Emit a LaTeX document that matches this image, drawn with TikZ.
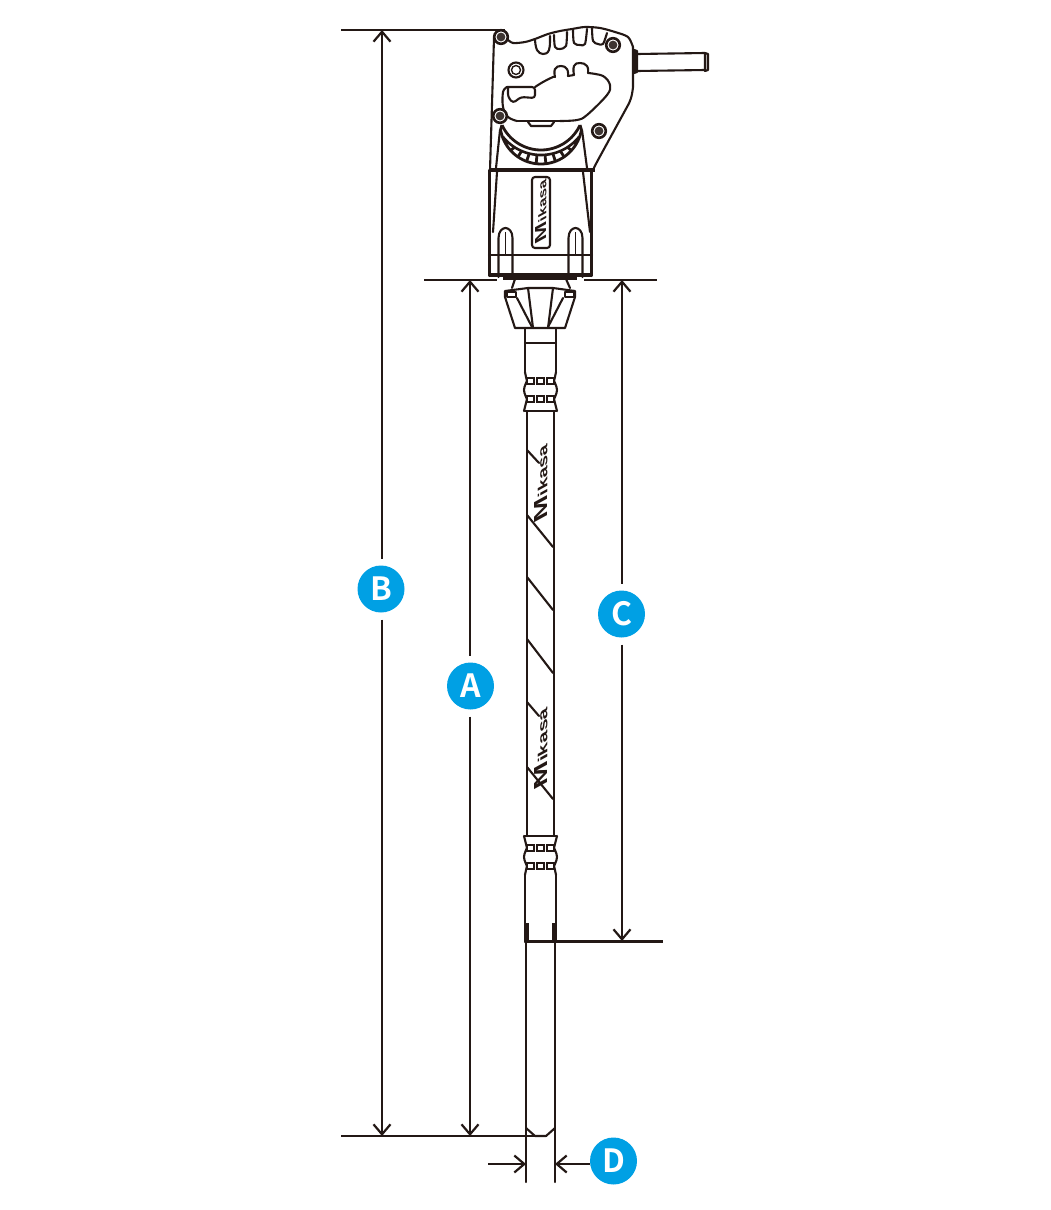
\documentclass[tikz,border=0pt]{standalone}
\usepackage{fontspec}
\setmainfont{Noto Sans}
\newfontfamily\logofont{Liberation Sans}
\newfontfamily\badgefont{Noto Sans CJK JP}[BoldFont={Noto Sans CJK JP Bold}]
\usetikzlibrary{arrows.meta}
\definecolor{ink}{HTML}{231815}
\definecolor{badge}{HTML}{00A0E4}
\tikzset{
  part/.style={draw=ink,line width=2.1pt,line join=round,line cap=round},
  thin part/.style={draw=ink,line width=1.4pt},
  heavy/.style={draw=ink,line width=3.4pt},
  dim/.style={draw=ink,line width=2.2pt},
  dimarrow/.style={dim,-{Straight Barb[length=10pt,width=17pt,line width=2.2pt]}},
  badgenode/.style={circle,fill=badge,text=white,minimum size=47pt,inner sep=0pt,outer sep=7pt,font=\badgefont\fontsize{32}{32}\selectfont\bfseries},
  screw/.style={draw=ink,line width=2.6pt,fill=white},
  screwcore/.style={fill=ink!88},
  cell/.style={draw=ink,line width=1.8pt,fill=white},
  logotext/.style={text=ink,inner sep=0pt},
}
\newcommand{\logoword}[2]{\resizebox{#1pt}{#2pt}{\logofont\bfseries{\Large M}\kern0.2pt ikasa}}
\newcommand{\collar}{%
  \draw[part] (-16,0) -- (16,0);
  \foreach \s in {-1,1}{
    \draw[part] plot[smooth,tension=.6] coordinates {({\s*15.5},-39) ({\s*14.5},-34) ({\s*13.5},-30)};
    \draw[part] plot[smooth,tension=.7] coordinates {({\s*13.5},-30) ({\s*16.5},-21) ({\s*13.5},-12)};
    \draw[part] plot[smooth,tension=.6] coordinates {({\s*13.5},-12) ({\s*15},-6) ({\s*16.5},0)};
  }
  \foreach \yy in {-30,-12}{
    \foreach \xx in {-13.5,-3.5,6.5}{
      \draw[cell] (\xx,\yy-3) rectangle (\xx+7,\yy+3);
    }
  }
}
\begin{document}
\begin{tikzpicture}[x=1pt,y=-1pt]
\useasboundingbox (0,0) rectangle (1050,1210);
% ---------- handle
\draw[part] (494,38) -- (490,170);
\draw[part] plot[smooth,tension=.5] coordinates {(507,39) (513,43) (525,42) (535,39) (548,34) (560,31) (572,29) (585,27) (600,28) (615,32) (628,37) (633,47)};
\draw[part] (633,47) -- (633,87) .. controls (632,97) and (630,102) .. (627,107) -- (598,160) .. controls (596,164) and (594,167) .. (593,170);
% finger notches
\draw[part] plot[smooth,tension=.7] coordinates {(535,40) (537,50) (543,54) (549,50) (550,36)};
\draw[part] plot[smooth,tension=.5] coordinates {(554,35) (555,47) (560,49) (566,46) (567,32)};
\draw[part] plot[smooth,tension=.5] coordinates {(573,30) (574,43) (580,45) (585,44) (587,29)};
\draw[part] plot[smooth,tension=.5] coordinates {(592,28) (593,41) (598,44) (603,44) (607,33)};
% hose connector
\draw[heavy] (634.5,50) -- (634.5,72);
\draw[part] (634,50) -- (637,51) -- (637,72) -- (634,73);
\draw[part] (637,54) -- (705,53) (637,71) -- (705,70);
\draw[part] (705,53) -- (708,54) -- (708,70) -- (705,71) -- cycle;
% grip opening
\draw[part,rounded corners=3pt] (507,87) -- (535,87) -- (535,98) -- (521,97) -- (513,103) -- (508,97) -- (508,87);
\draw[part] plot[smooth,tension=.5] coordinates {(535,87) (543,82) (553,77) (555,77)};
\draw[part] plot[smooth,tension=.8] coordinates {(555,77) (555,69) (561,66) (567,69) (568,76)};
\draw[part] (568,76) -- (574,75);
\draw[part] plot[smooth,tension=.8] coordinates {(574,75) (574,66) (580,63) (587,66) (588,73)};
\draw[part] plot[smooth,tension=.6] coordinates {(588,73) (603,76) (610,85) (607,95) (587,115) (577,120) (560,121)};
\draw[part] (560,121) -- (517,121);
\draw[part] plot[smooth,tension=.6] coordinates {(517,121) (508,117) (503,107) (503,92) (507,87)};
% small bump under the grip
\draw[part] (528,122) -- (531,126) -- (551,126) -- (554,122);
% ring
\draw[part] (516,70) circle[radius=7.5pt];
\draw[thin part] (516,70) circle[radius=4.5pt];
% ---------- dial
\draw[draw=ink,line width=2.8pt] plot[smooth,samples=40,domain=25:155] ({541+43*cos(\x)},{107+43*sin(\x)});
\draw[draw=ink,line width=2.6pt] plot[smooth,samples=40,domain=39:141] ({541+49*cos(\x)},{106+49*sin(\x)});
\draw[draw=ink,line width=2.8pt] plot[smooth,samples=40,domain=10:170] ({541+41*cos(\x)},{123+41*sin(\x)});
\foreach \i in {-4.5,-3.5,...,4.5}{
  \pgfmathsetmacro{\m}{90+9.33*\i}
  \pgfmathsetmacro{\o}{90+13.7*\i}
  \draw[draw=ink,line width=2.8pt] ({541+49*cos(\m)},{106+49*sin(\m)}) -- ({541+41*cos(\o)},{123+41*sin(\o)});
}
\draw[draw=ink,line width=2.8pt] (502,125) -- (500.5,130);
\draw[draw=ink,line width=2.8pt] (580,125) -- (581.5,130);
% body
\draw[part] (500,130) -- (496,168);
\draw[part] (582,130) -- (587,168);
\draw[part] (497,172) -- (493,232);
\draw[part] (583,172) -- (590,232);
\draw[heavy] (489,170) -- (595,170);
\draw[part] (489.5,170) -- (489.5,276);
\draw[part] (591.5,170) -- (591.5,276);
\draw[part] (489,255) -- (592,255);
\draw[heavy] (489,275) -- (592,275);
\draw[heavy] (503,278) -- (577,278);
% side tabs
\foreach \cx in {505.5,575.5}{
  \draw[part] (\cx-7,277) -- (\cx-7,238) .. controls (\cx-7,231) and (\cx-3,228) .. (\cx,228) .. controls (\cx+3,228) and (\cx+7,231) .. (\cx+7,238) -- (\cx+7,277);
  \draw[thin part] (\cx,232) -- (\cx,255);
}
% label plate
\draw[part,rounded corners=3pt] (532,177) rectangle (550,248);
\begin{scope}[shift={(541,212)},rotate=90,xslant=-0.55,transform shape]
  \node[logotext] (plate logo) at (0,0) {\logoword{60}{11}};
\end{scope}
% screws
\foreach \sx/\sy in {501/37,613/45,500/116,599/131}{
  \draw[screw] (\sx,\sy) circle[radius=6.8pt];
  \fill[screwcore] (\sx,\sy) circle[radius=4.4pt];
}
% ---------- nut
\draw[part] (515,279) -- (512,288) (566,279) -- (570,288);
\draw[part] (505,291) -- (528,288) -- (553,288) -- (575,291) -- (575,297) -- (565,328) -- (515,328) -- (505,297) -- cycle;
\draw[part] (528,288) -- (533,328) (553,288) -- (548,328);
\draw[part] (517,298) -- (532,327) (563,298) -- (548,327);
\draw[part] (507,292) rectangle (516,297);
\draw[part] (565,292) rectangle (574,297);
% ---------- upper sleeve
\draw[part] (525,328) -- (525,372) (556,328) -- (556,372);
\draw[part] (525,343) -- (556,343);
\begin{scope}[shift={(540.5,411)}]\collar\end{scope}
% hose
\draw[part] (527,411) -- (527,836) (554,411) -- (554,836);
\begin{scope}[shift={(540.5,836)},yscale=-1]\collar\end{scope}
% stripes
\draw[part] (527,450) -- (539,463);
\draw[part] (527,515) -- (553,547);
\draw[part] (527,577) -- (553,610);
\draw[part] (527,639) -- (553,673);
\draw[part] (527,702) -- (539,716);
\draw[part] (527,767) -- (553,799);
\begin{scope}[shift={(541,484)},rotate=90,xslant=-0.55,transform shape]
  \node[logotext] (hose logo a) at (0,0) {\logoword{74}{13}};
\end{scope}
\begin{scope}[shift={(541,749)},rotate=90,xslant=-0.55,transform shape]
  \node[logotext] (hose logo b) at (0,0) {\logoword{78}{13}};
\end{scope}
% ---------- lower sleeve and tube
\draw[part] (525,875) -- (525,942) (556,875) -- (556,942);
\draw[heavy] (527,923) -- (527,940) (554,923) -- (554,940);
\draw[part] (526,942) -- (526,1128) (555,942) -- (555,1128);
\draw[part] (526,1128) -- (535,1136) -- (546,1136) -- (555,1128);
\draw[part] (526,1128) -- (526,1182) (555,1128) -- (555,1182);
% ---------- dimensions
\coordinate (top b) at (382,30);
\coordinate (bot b) at (382,1136);
\coordinate (top a) at (470,280);
\coordinate (bot a) at (470,1136);
\coordinate (top c) at (622,280);
\coordinate (bot c) at (622,941);
\coordinate (ext top l) at (341,30);
\coordinate (ext top r) at (505,30);
\coordinate (ext mid ll) at (424,280);
\coordinate (ext mid lr) at (497,280);
\coordinate (ext mid rl) at (584,280);
\coordinate (ext mid rr) at (657,280);
\coordinate (ext c l) at (526,941.5);
\coordinate (ext c r) at (663,941.5);
\coordinate (ext bot l) at (341,1136);
\coordinate (ext bot r) at (535,1136);
\coordinate (d left from) at (488,1164);
\coordinate (d left to) at (526,1164);
\coordinate (d right to) at (555,1164);
\node[badgenode] (B) at (381,589) {B};
\node[badgenode] (A) at (470.5,686) {A};
\node[badgenode] (C) at (621.5,614) {C};
\node[badgenode,outer sep=0pt] (D) at (613.5,1161) {D};
\draw[dim] (ext top l) -- (ext top r);
\draw[dim] (ext mid ll) -- (ext mid lr);
\draw[dim] (ext mid rl) -- (ext mid rr);
\draw[dim] (ext c l) -- (ext c r);
\draw[dim] (ext bot l) -- (ext bot r);
\draw[dimarrow] (B.north -| top b) -- (top b);
\draw[dimarrow] (B.south -| bot b) -- (bot b);
\draw[dimarrow] (A.north -| top a) -- (top a);
\draw[dimarrow] (A.south -| bot a) -- (bot a);
\draw[dimarrow] (C.north -| top c) -- (top c);
\draw[dimarrow] (C.south -| bot c) -- (bot c);
\draw[dimarrow] (d left from) -- (d left to);
\draw[dimarrow] (D.west |- d right to) -- (d right to);
\end{tikzpicture}
\end{document}
